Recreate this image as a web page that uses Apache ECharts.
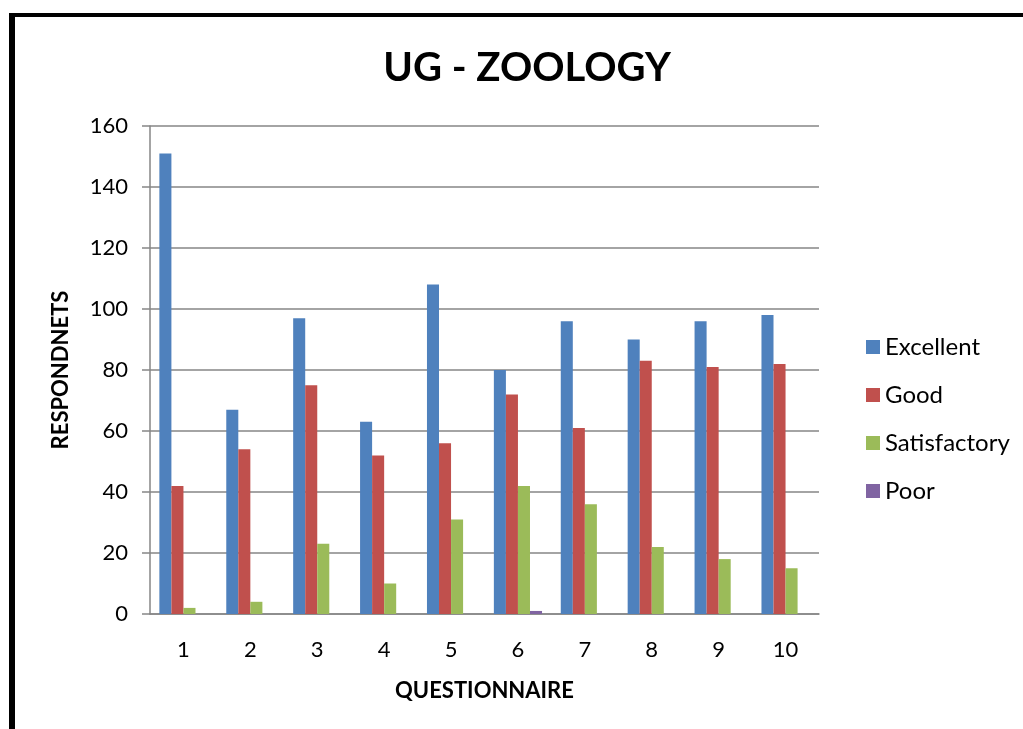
<!DOCTYPE html>
<html>
<head>
<meta charset="utf-8">
<script src="https://cdn.jsdelivr.net/npm/echarts@6/dist/echarts.min.js"></script>
<style>html,body{margin:0;padding:0;background:#fff}#c{width:1023px;height:729px}</style>
</head>
<body>
<div id="c"></div>
<script>
const categories = ['1','2','3','4','5','6','7','8','9','10'];
const excellent = [151, 67, 97, 63, 108, 80, 96, 90, 96, 98];
const good = [42, 54, 75, 52, 56, 72, 61, 83, 81, 82];
const satisfactory = [2, 4, 23, 10, 31, 42, 36, 22, 18, 15];
const poor = [0, 0, 0, 0, 0, 1, 0, 0, 0, 0];
const seriesNames = ['Excellent', 'Good', 'Satisfactory', 'Poor'];
const colors = ['#4F81BD', '#C0504D', '#9BBB59', '#8064A2'];

const chart = echarts.init(document.getElementById('c'));
const font = 'Lato, Carlito, "Open Sans", sans-serif';
const mk = (name, data, i) => ({
  name, type: 'bar', data, barGap: '0%', barCategoryGap: '28%',
  itemStyle: { color: colors[i] }
});
chart.setOption({
  animation: false,
  color: colors,
  title: {
    text: 'UG - ZOOLOGY', left: 522, top: 43, textAlign: 'center',
    textStyle: { fontFamily: font, fontWeight: 'bold', fontSize: 40, color: '#000' }
  },
  legend: {
    orient: 'vertical', left: 861, top: 330, itemGap: 24, itemWidth: 14, itemHeight: 14,
    icon: 'rect', textStyle: { fontFamily: font, fontSize: 24, color: '#000' },
    data: seriesNames
  },
  grid: { left: 150, right: 204, top: 126, bottom: 115 },
  xAxis: {
    type: 'category', data: categories,
    name: 'QUESTIONNAIRE', nameLocation: 'middle', nameGap: 66,
    nameTextStyle: { fontFamily: font, fontWeight: 'bold', fontSize: 22, color: '#000' },
    axisLine: { lineStyle: { color: '#868686', width: 1.5 } },
    axisTick: { show: false },
    axisLabel: { fontFamily: font, fontSize: 22, color: '#000', margin: 25 }
  },
  yAxis: {
    type: 'value', min: 0, max: 160, interval: 20,
    name: 'RESPONDNETS', nameLocation: 'middle', nameGap: 78, nameRotate: 90,
    nameTextStyle: { fontFamily: font, fontWeight: 'bold', fontSize: 22, color: '#000' },
    axisLine: { show: true, lineStyle: { color: '#868686', width: 1.5 } },
    axisTick: { show: true, length: 8, lineStyle: { color: '#868686', width: 1.5 } },
    splitLine: { lineStyle: { color: '#868686', width: 1.5 } },
    axisLabel: { fontFamily: font, fontSize: 22, color: '#000', margin: 22 }
  },
  graphic: [
    { type: 'rect', shape: { x: 9, y: 13, width: 6, height: 716 }, style: { fill: '#000' } },
    { type: 'rect', shape: { x: 9, y: 13, width: 1014, height: 4 }, style: { fill: '#000' } }
  ],
  series: [
    mk('Excellent', excellent, 0),
    mk('Good', good, 1),
    mk('Satisfactory', satisfactory, 2),
    mk('Poor', poor, 3)
  ]
});
</script>
</body>
</html>
